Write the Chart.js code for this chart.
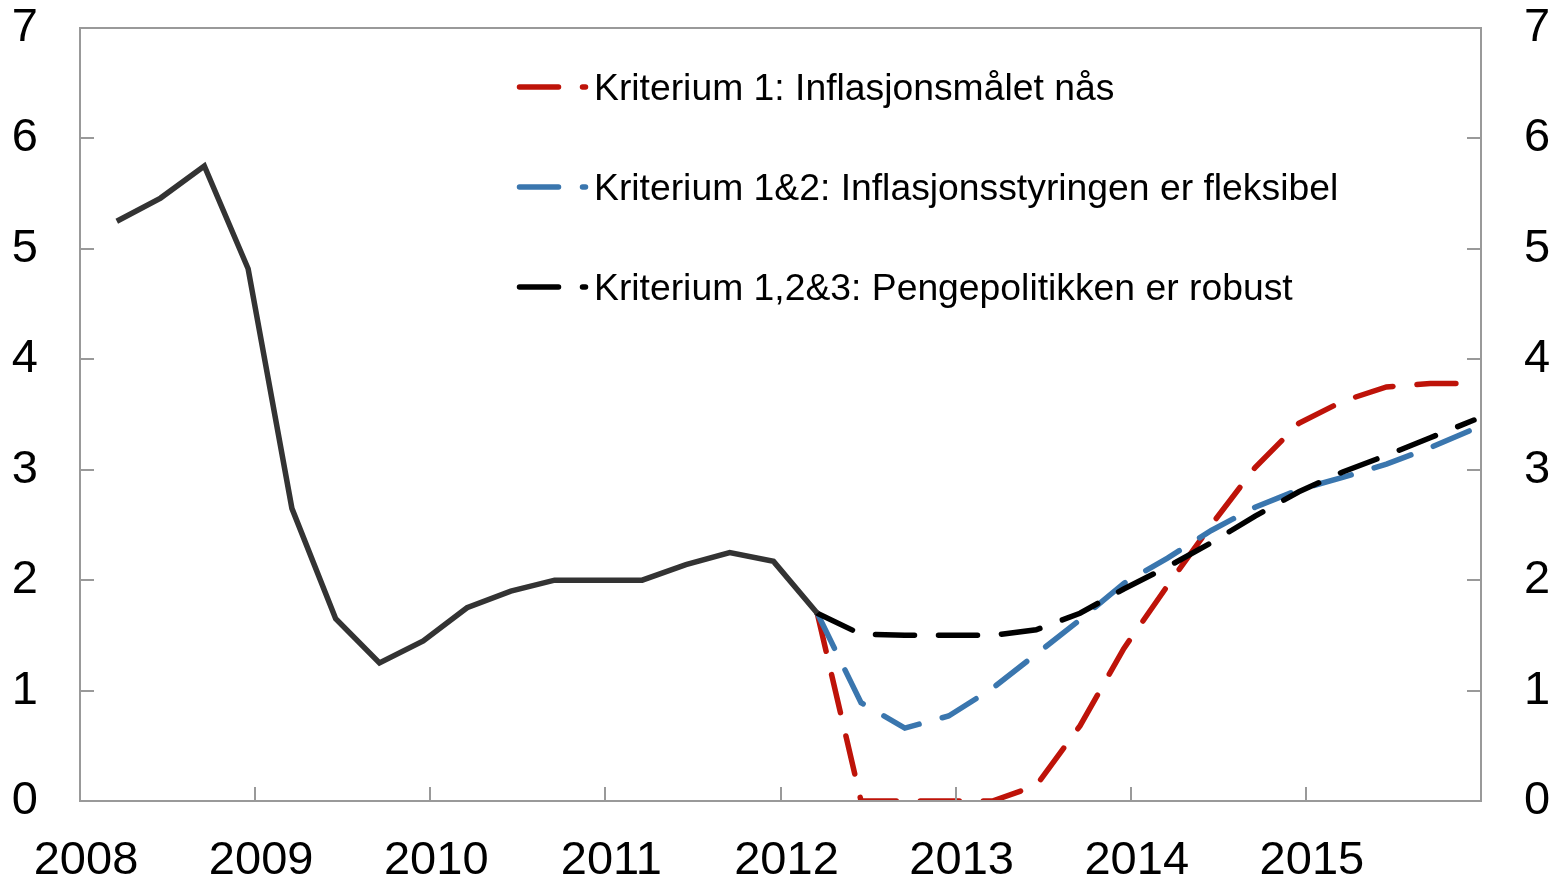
<!DOCTYPE html>
<html><head><meta charset="utf-8">
<script src="https://cdn.jsdelivr.net/npm/chart.js@4.4.1/dist/chart.umd.min.js"></script>
<style>html,body{margin:0;padding:0;background:#fff;}#wrap{width:1561px;height:883px;position:relative;}</style>
</head><body><div id="wrap"><canvas id="c" width="1561" height="883"></canvas></div>
<script>
// Quarterly observations, x in decimal years
const historyX = [2008.21, 2008.46, 2008.71, 2008.96, 2009.21, 2009.46, 2009.71, 2009.96, 2010.21, 2010.46, 2010.71, 2010.96, 2011.21, 2011.46, 2011.71, 2011.96, 2012.21];
const historyY = [5.25, 5.46, 5.75, 4.82, 2.65, 1.65, 1.25, 1.45, 1.75, 1.9, 2.0, 2.0, 2.0, 2.14, 2.25, 2.17, 1.7];
const scenarioX = [2012.21, 2012.46, 2012.71, 2012.96, 2013.21, 2013.46, 2013.71, 2013.96, 2014.21, 2014.46, 2014.71, 2014.96, 2015.21, 2015.46, 2015.71, 2015.96];
const kriterium1 = [1.7, 0.0, 0.0, 0.0, 0.0, 0.14, 0.68, 1.38, 1.95, 2.5, 3.02, 3.42, 3.62, 3.75, 3.78, 3.78];
const kriterium12 = [1.7, 0.89, 0.66, 0.77, 1.02, 1.33, 1.64, 1.97, 2.2, 2.45, 2.66, 2.82, 2.93, 3.05, 3.2, 3.37];
const kriterium123 = [1.7, 1.51, 1.5, 1.5, 1.5, 1.55, 1.7, 1.92, 2.12, 2.34, 2.58, 2.8, 2.98, 3.13, 3.29, 3.45];
const yearLabels = [2008, 2009, 2010, 2011, 2012, 2013, 2014, 2015];
const legendLabels = [
  'Kriterium 1: Inflasjonsmålet nås',
  'Kriterium 1&2: Inflasjonsstyringen er fleksibel',
  'Kriterium 1,2&3: Pengepolitikken er robust'
];
const RED = '#BE1309', BLUE = '#3A76AE', BLACK = '#000000', GREY = '#333333';
const FONT = "'Liberation Sans', Arial, sans-serif";

function pts(xs, ys) { return xs.map((x, i) => ({ x: x, y: ys[i] })); }
const DASH = [39, 24];
const LW = 5.5;

const frameAndTicks = {
  id: 'frameAndTicks',
  afterDraw(chart) {
    const ctx = chart.ctx, a = chart.chartArea;
    const xs = chart.scales.x, ys = chart.scales.y;
    ctx.save();
    ctx.strokeStyle = '#999999';
    ctx.lineWidth = 2;
    ctx.beginPath();
    ctx.rect(a.left, a.top, a.right - a.left, a.bottom - a.top);
    ctx.stroke();
    ctx.beginPath();
    ys.ticks.forEach(t => {
      const p = Math.round(ys.getPixelForValue(t.value));
      ctx.moveTo(a.left, p); ctx.lineTo(a.left + 14, p);
      ctx.moveTo(a.right, p); ctx.lineTo(a.right - 14, p);
    });
    xs.ticks.forEach(t => {
      const p = Math.round(xs.getPixelForValue(t.value));
      ctx.moveTo(p, a.bottom); ctx.lineTo(p, a.bottom - 14);
    });
    ctx.stroke();
    ctx.restore();
  }
};

const legendPlugin = {
  id: 'customLegend',
  afterDatasetsDraw(chart) {
    const ctx = chart.ctx;
    const items = [[legendLabels[0], RED], [legendLabels[1], BLUE], [legendLabels[2], BLACK]];
    ctx.save();
    items.forEach((it, i) => {
      const yLine = 87 + i * 100;
      ctx.strokeStyle = it[1];
      ctx.lineWidth = LW;
      ctx.lineCap = 'round';
      ctx.setLineDash(DASH);
      ctx.beginPath();
      ctx.moveTo(519.5, yLine); ctx.lineTo(585.5, yLine);
      ctx.stroke();
      ctx.setLineDash([]);
      ctx.fillStyle = '#000';
      ctx.font = '37.3px ' + FONT;
      ctx.textBaseline = 'alphabetic';
      ctx.textAlign = 'left';
      ctx.fillText(it[0], 594, 100 + i * 100);
    });
    ctx.restore();
  }
};

const tickFont = { size: 47, family: FONT };
function fitY(s) { s.width = 80; s.paddingTop = 0; s.paddingBottom = 0; }

new Chart(document.getElementById('c'), {
  type: 'line',
  data: {
    datasets: [
      { label: 'Historie', data: pts(historyX, historyY), borderColor: GREY, borderWidth: LW, pointRadius: 0, order: 0 },
      { label: legendLabels[2], data: pts(scenarioX, kriterium123), borderColor: BLACK, borderWidth: LW, borderDash: DASH, borderCapStyle: 'round', pointRadius: 0, order: 1 },
      { label: legendLabels[1], data: pts(scenarioX, kriterium12), borderColor: BLUE, borderWidth: LW, borderDash: DASH, borderCapStyle: 'round', pointRadius: 0, order: 2 },
      { label: legendLabels[0], data: pts(scenarioX, kriterium1), borderColor: RED, borderWidth: LW, borderDash: DASH, borderCapStyle: 'round', pointRadius: 0, order: 3 }
    ]
  },
  options: {
    responsive: false,
    animation: false,
    events: [],
    layout: { padding: { top: 28, left: 0, right: 0, bottom: 0 } },
    plugins: { legend: { display: false }, tooltip: { enabled: false }, title: { display: false } },
    scales: {
      x: {
        type: 'linear', min: 2008, max: 2016,
        grid: { display: false, drawTicks: false }, border: { display: false },
        ticks: { stepSize: 1, autoSkip: false, maxRotation: 0, padding: 32, labelOffset: 6, color: '#000', font: tickFont,
          callback: v => yearLabels.includes(v) ? String(v) : '' },
        afterFit: s => { s.height = 82; s.paddingLeft = 0; s.paddingRight = 0; }
      },
      y: {
        position: 'left', min: 0, max: 7,
        grid: { display: false, drawTicks: false }, border: { display: false },
        ticks: { stepSize: 1, padding: 42, color: '#000', font: tickFont },
        afterFit: fitY
      },
      y2: {
        position: 'right', min: 0, max: 7,
        grid: { display: false, drawTicks: false }, border: { display: false },
        ticks: { stepSize: 1, padding: 43, color: '#000', font: tickFont },
        afterFit: fitY
      }
    }
  },
  plugins: [frameAndTicks, legendPlugin]
});
</script>
</body></html>
